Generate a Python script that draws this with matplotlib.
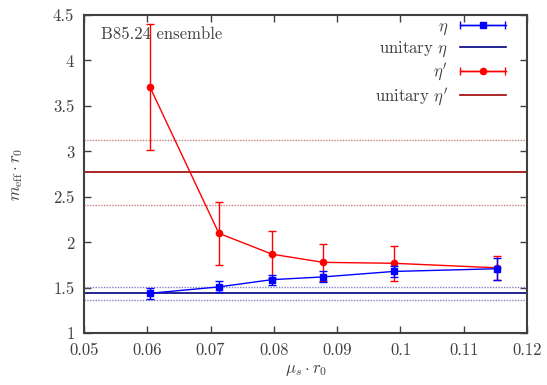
import matplotlib
matplotlib.use("Agg")
import matplotlib.pyplot as plt
from matplotlib.legend_handler import HandlerErrorbar

plt.rcParams["font.family"] = "cmr10"
plt.rcParams["mathtext.fontset"] = "cm"
plt.rcParams["axes.formatter.use_mathtext"] = True

# Data
mu_s = [0.0604, 0.0713, 0.0797, 0.0878, 0.0989, 0.1153]

eta = [1.44, 1.51, 1.59, 1.62, 1.68, 1.71]
eta_err = [0.06, 0.06, 0.055, 0.06, 0.06, 0.12]

etap = [3.71, 2.10, 1.87, 1.78, 1.77, 1.72]
etap_err = [0.69, 0.345, 0.26, 0.20, 0.19, 0.13]

unit_eta, unit_eta_err = 1.44, 0.07
unit_etap, unit_etap_err = 2.77, 0.355

text_col = "#404040"

fig = plt.figure(figsize=(5.47, 3.85), dpi=100)
ax = fig.add_axes([0.1536, 0.1343, 0.81, 0.8267])

ax.errorbar(mu_s, eta, yerr=eta_err, color="#0000ff", marker="s", ms=5,
            lw=1, elinewidth=1, capsize=3, zorder=4)
h_ueta = ax.axhline(unit_eta, color="#000080", lw=1.2)
ax.axhline(unit_eta + unit_eta_err, color="#8080c8", lw=1, ls=(0, (1, 1)))
ax.axhline(unit_eta - unit_eta_err, color="#8080c8", lw=1, ls=(0, (1, 1)))

ax.errorbar(mu_s, etap, yerr=etap_err, color="#ff0000", marker="o", ms=4.5,
            lw=1, elinewidth=1, capsize=3, zorder=3)
h_uetap = ax.axhline(unit_etap, color="#a00000", lw=1.2)
ax.axhline(unit_etap + unit_etap_err, color="#c88080", lw=1, ls=(0, (1, 1)))
ax.axhline(unit_etap - unit_etap_err, color="#c88080", lw=1, ls=(0, (1, 1)))

# legend-only handles with horizontal error bars, as in the reference key
h_eta = ax.errorbar([0.0], [0.0], xerr=[0.001], color="#0000ff", marker="s",
                    ms=5, lw=1, capsize=3, capthick=1)
h_etap = ax.errorbar([0.0], [0.0], xerr=[0.001], color="#ff0000", marker="o",
                     ms=4.5, lw=1, capsize=3, capthick=1)

ax.set_xlim(0.05, 0.12)
ax.set_ylim(1, 4.5)
ax.set_xticks([0.05, 0.06, 0.07, 0.08, 0.09, 0.1, 0.11, 0.12])
ax.set_xticklabels(["0.05", "0.06", "0.07", "0.08", "0.09", "0.1", "0.11", "0.12"])
ax.set_yticks([1, 1.5, 2, 2.5, 3, 3.5, 4, 4.5])
ax.set_yticklabels(["1", "1.5", "2", "2.5", "3", "3.5", "4", "4.5"])

ax.tick_params(direction="in", top=True, right=True, length=5, width=1,
               colors=text_col, labelsize=12, pad=7)
for s in ax.spines.values():
    s.set_color("#404040")
    s.set_linewidth(1.5)

ax.set_xlabel(r"$\mu_s \cdot r_0$", fontsize=12, color=text_col, labelpad=3)
ax.set_ylabel(r"$m_{\rm eff} \cdot r_0$", fontsize=12, color=text_col, labelpad=20)

ax.text(0.038, 0.94, "B85.24 ensemble", transform=ax.transAxes, fontsize=12,
        color=text_col, va="center")

leg = ax.legend([h_eta, h_ueta, h_etap, h_uetap],
                [r"$\eta$", r"unitary $\eta$", r"$\eta'$", r"unitary $\eta'$"],
                handler_map={type(h_eta): HandlerErrorbar(xerr_size=1.35)},
                loc="upper right", markerfirst=False, frameon=False,
                fontsize=12, handlelength=2.8, handletextpad=0.7,
                borderaxespad=0.0, labelspacing=0.15,
                bbox_to_anchor=(0.968, 1.01))
for t in leg.get_texts():
    t.set_color(text_col)
    t.set_ha("right")

fig.savefig("out.png", dpi=100)
